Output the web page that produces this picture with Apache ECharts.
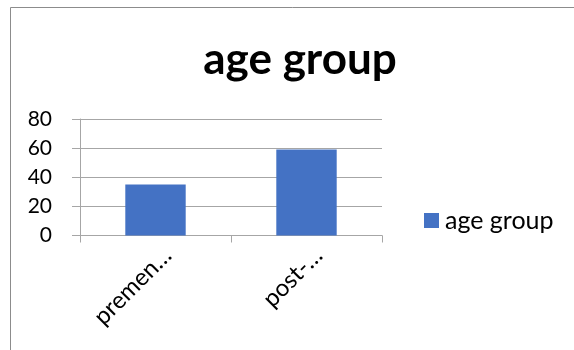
<!DOCTYPE html>
<html>
<head>
<meta charset="utf-8">
<script src="https://cdn.jsdelivr.net/npm/echarts@6/dist/echarts.min.js"></script>
<style>
  html, body { margin: 0; padding: 0; background: #fff; }
  #chart { width: 574px; height: 350px; }
</style>
</head>
<body>
<div id="chart"></div>
<script>
// Age group counts
const categories = ['premen…', 'post-…'];
const seriesName = 'age group';
const values = [35, 59];
const yTicks = { min: 0, max: 80, interval: 20 };

const FONT = 'Lato, "Open Sans", sans-serif';
const GRID_GRAY = '#a6a6a6';

const chart = echarts.init(document.getElementById('chart'), null, { renderer: 'canvas' });
chart.setOption({
  backgroundColor: '#ffffff',
  animation: false,
  title: {
    text: 'age group',
    left: 295,
    textAlign: 'center',
    top: 33,
    textStyle: { fontFamily: FONT, fontWeight: 'bold', fontSize: 44, color: '#000' }
  },
  legend: {
    left: 424,
    top: 208,
    padding: 0,
    itemWidth: 15,
    itemHeight: 15,
    itemGap: 8,
    icon: 'rect',
    textStyle: { fontFamily: FONT, fontSize: 25, color: '#000', padding: [0, 0, 0, 1] },
    data: [seriesName]
  },
  grid: { left: 80, right: 192, top: 119, bottom: 114.5, containLabel: false },
  xAxis: {
    type: 'category',
    data: categories,
    boundaryGap: true,
    axisLine: { show: true, lineStyle: { color: GRID_GRAY, width: 1 } },
    axisTick: { show: true, length: 7, alignWithLabel: false, lineStyle: { color: GRID_GRAY } },
    axisLabel: {
      rotate: 45,
      interval: 0,
      margin: 28,
      padding: [0, -17, 0, 0],
      fontFamily: FONT,
      fontSize: 24,
      color: '#000'
    }
  },
  yAxis: {
    type: 'value',
    min: yTicks.min,
    max: yTicks.max,
    interval: yTicks.interval,
    axisLine: { show: true, lineStyle: { color: GRID_GRAY, width: 1 } },
    axisTick: { show: true, length: 8, lineStyle: { color: GRID_GRAY } },
    splitLine: { show: true, lineStyle: { color: GRID_GRAY, width: 1 } },
    axisLabel: { margin: 28, fontFamily: FONT, fontSize: 21, color: '#000' }
  },
  series: [{
    name: seriesName,
    type: 'bar',
    data: values,
    barWidth: '40%',
    itemStyle: { color: '#4472c4' }
  }],
  graphic: [{
    type: 'rect',
    shape: { x: 10.5, y: 7.5, width: 700, height: 500 },
    style: { fill: 'none', stroke: '#8c8c8c', lineWidth: 1 },
    silent: true
  }]
});
</script>
</body>
</html>
